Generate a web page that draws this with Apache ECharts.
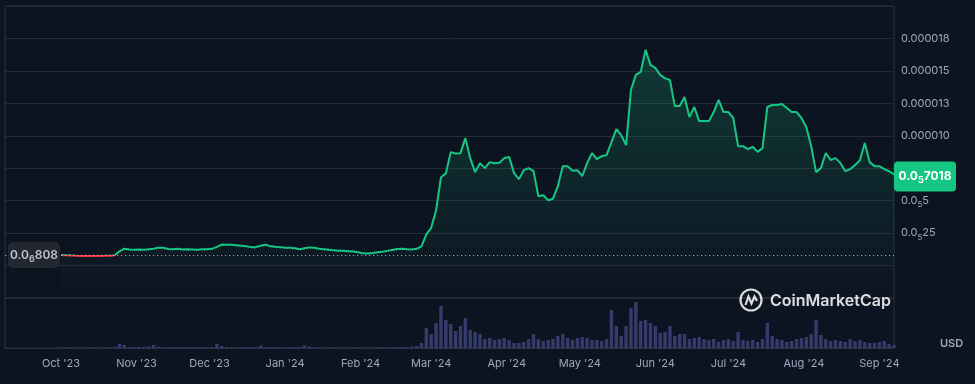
<!DOCTYPE html>
<html>
<head>
<meta charset="utf-8">
<script src="https://cdn.jsdelivr.net/npm/echarts@6/dist/echarts.min.js"></script>
<style>
html,body{margin:0;padding:0;background:#0d1421;}
#chart{width:975px;height:384px;}
</style>
</head>
<body>
<div id="chart"></div>
<script>
// ---- data (prices in units of 1e-6 USD, one sample every 2 days from 2023-10-01) ----
const startDate = [2023, 10, 1];
const stepDays = 2;
const prices = [
  0.808,0.79,0.77,0.75,0.74,0.74,0.73,0.73,0.74,0.75,
  0.76,0.79,1.10,1.30,1.23,1.21,1.23,1.21,1.25,1.29,
  1.38,1.37,1.27,1.25,1.29,1.23,1.25,1.23,1.21,1.25,
  1.25,1.29,1.44,1.62,1.60,1.61,1.56,1.52,1.48,1.42,
  1.42,1.52,1.61,1.48,1.44,1.42,1.38,1.38,1.33,1.25,
  1.33,1.40,1.37,1.29,1.25,1.21,1.17,1.15,1.14,1.11,
  1.08,1.02,0.94,0.93,0.96,1.02,1.06,1.13,1.20,1.27,
  1.29,1.25,1.23,1.29,1.48,2.41,2.91,4.26,6.81,7.10,
  8.74,8.64,8.66,9.82,8.28,7.20,7.89,7.51,7.97,7.89,
  7.92,8.28,8.36,7.12,6.66,7.35,7.51,7.28,5.34,5.42,
  5.03,5.15,6.12,7.66,7.66,7.31,7.35,6.89,7.89,8.66,
  8.20,8.43,8.51,9.51,10.52,10.05,9.28,13.53,14.69,14.92,
  16.62,15.46,15.23,14.69,14.42,14.30,12.29,12.29,12.99,11.44,
  12.22,11.13,11.13,11.13,11.83,12.76,11.83,11.83,11.37,9.20,
  9.20,8.97,9.15,8.76,9.05,12.22,12.37,12.37,12.45,12.14,
  11.83,11.83,11.37,10.68,9.20,7.20,7.51,8.67,8.13,8.28,
  7.89,7.27,7.43,7.74,8.12,9.44,7.97,7.66,7.66,7.43,
  7.27,7.018
];
const volumes = [
  0.5,0.4,0.6,0.5,0.4,0.5,0.6,0.5,0.4,0.5,0.6,
  1,4,3,1,1,1.2,1,1.5,3,1,
  0.8,0.7,0.9,0.8,0.7,0.8,0.9,0.7,0.8,0.8,
  1,4,2,1,0.8,0.7,0.9,0.8,1,0.8,
  2.5,0.8,0.7,0.9,0.8,0.7,0.8,0.9,1,2.5,
  1.5,0.6,0.5,0.6,0.5,0.6,0.5,0.6,0.5,0.6,
  0.5,0.6,0.5,0.6,0.5,0.8,0.7,0.8,0.9,1,
  1,1.5,2,5,20,14,25,42,28,24,
  17,22,30,18,16,14,9,10,8,9,
  10,8,5,5,6,9,14,9,7,8,
  9,12,14,10,8,10,11,10,8,8,
  7,9,38,22,12,22,40,46,27,28,
  25,22,15,16,22,12,14,14,9,10,
  11,9,8,9,6,8,9,7,16,8,
  7,8,6,9,25,12,9,8,6,7,
  9,10,11,14,28,13,9,7,8,7,
  6,9,7,8,6,5,5,6,7,4,3
];
const baselinePrice = 0.808;
const axisRange = ['2023-09-08', '2024-09-07'];
const monthStarts = ['2023-10-01','2023-11-01','2023-12-01','2024-01-01','2024-02-01','2024-03-01',
                     '2024-04-01','2024-05-01','2024-06-01','2024-07-01','2024-08-01','2024-09-01'];
const monthLabels = ["Oct '23","Nov '23","Dec '23","Jan '24","Feb '24","Mar '24",
                     "Apr '24","May '24","Jun '24","Jul '24","Aug '24","Sep '24"];
const priceTicks = [2.5, 5, 10, 12.5, 15, 17.5];
const priceTickLabels = ['0.0{s|5}25', '0.0{s|5}5', '0.000010', '0.000013', '0.000015', '0.000018'];

// ---- helpers ----
function parseDay(s) { const p = s.split('-').map(Number); return Date.UTC(p[0], p[1] - 1, p[2]); }
function sampleTs(k) { return Date.UTC(startDate[0], startDate[1] - 1, startDate[2] + k * stepDays); }
function subFormat(micro) {
  const val = micro * 1e-6;
  const exp = Math.floor(Math.log10(val));
  const zeros = -exp - 1;
  const mant = (val / Math.pow(10, exp)).toFixed(3).replace('.', '').replace(/0+$/, '');
  return '{a|0.0}{s|' + zeros + '}{a|' + mant + '}';
}
function roundRectPath(w, h, r) {
  return 'path://M' + r + ',0H' + (w - r) + 'A' + r + ',' + r + ' 0 0 1 ' + w + ',' + r +
    'V' + (h - r) + 'A' + r + ',' + r + ' 0 0 1 ' + (w - r) + ',' + h +
    'H' + r + 'A' + r + ',' + r + ' 0 0 1 0,' + (h - r) +
    'V' + r + 'A' + r + ',' + r + ' 0 0 1 ' + r + ',0Z';
}

const priceData = prices.map((v, k) => [sampleTs(k), v]);
const volumeData = volumes.map((v, k) => [sampleTs(k), v]);
const monthTs = monthStarts.map(parseDay);
function monthLabelFor(v) {
  const i = monthTs.findIndex(t => Math.abs(t - v) < 3600e3);
  return i >= 0 ? monthLabels[i] : '';
}
const xMin = parseDay(axisRange[0]), xMax = parseDay(axisRange[1]);
const lastPoint = priceData[priceData.length - 1];

const FONT = 'Inter, "Noto Sans", sans-serif';
const GRID_COLOR = '#232a38';
const BORDER_COLOR = '#2b3140';
const TEXT_COLOR = '#a1a7bb';

const chart = echarts.init(document.getElementById('chart'), null, { renderer: 'canvas' });
chart.setOption({
  backgroundColor: '#0d1421',
  animation: false,
  textStyle: { fontFamily: FONT },
  grid: [
    { left: 5, right: 81, top: 6, height: 292, show: true, borderColor: BORDER_COLOR, borderWidth: 1, backgroundColor: 'transparent' },
    { left: 5, right: 81, top: 298, height: 50, show: true, borderColor: BORDER_COLOR, borderWidth: 1, backgroundColor: 'transparent' }
  ],
  visualMap: {
    show: false, seriesIndex: 0, dimension: 1,
    pieces: [{ gte: -5, lt: baselinePrice, color: '#ea3943' }, { gte: baselinePrice, lte: 100, color: '#16c784' }]
  },
  xAxis: [
    { type: 'value', gridIndex: 0, min: xMin, max: xMax, scale: true,
      axisLine: { show: false }, axisTick: { show: false }, axisLabel: { show: false }, splitLine: { show: false } },
    { type: 'value', gridIndex: 1, min: xMin, max: xMax, scale: true,
      axisLine: { show: true, onZero: false, lineStyle: { color: BORDER_COLOR } },
      axisTick: { show: false }, splitLine: { show: false },
      axisLabel: {
        customValues: monthTs,
        formatter: (v) => monthLabelFor(v),
        color: TEXT_COLOR, fontSize: 11, fontFamily: FONT, margin: 10,
        showMinLabel: true, showMaxLabel: true
      } }
  ],
  yAxis: [
    { type: 'value', gridIndex: 0, position: 'right', min: -2.5, max: 20, interval: 2.5,
      axisLine: { show: false }, axisTick: { show: false },
      splitLine: { show: true, lineStyle: { color: GRID_COLOR, width: 1 } },
      axisLabel: {
        color: TEXT_COLOR, fontSize: 11, fontFamily: FONT, margin: 7, align: 'left',
        formatter: (v) => {
          const i = priceTicks.findIndex(t => Math.abs(t - v) < 1e-9);
          return i >= 0 ? priceTickLabels[i] : '';
        },
        rich: { s: { fontSize: 8, color: TEXT_COLOR, fontFamily: FONT, padding: [8, 0, 0, 0] } }
      } },
    { type: 'value', gridIndex: 1, min: 0, max: 50, show: false, splitLine: { show: false } }
  ],
  series: [
    {
      type: 'line', xAxisIndex: 0, yAxisIndex: 0, data: priceData,
      showSymbol: false, symbol: 'none', smooth: false,
      lineStyle: { width: 2 },
      areaStyle: {
        origin: 'start',
        color: new echarts.graphic.LinearGradient(0, 0, 0, 1, [
          { offset: 0, color: 'rgba(22,199,132,0.30)' },
          { offset: 1, color: 'rgba(22,199,132,0.0)' }
        ])
      },
      markLine: {
        silent: true, symbol: 'none', animation: false,
        label: { show: false },
        lineStyle: { type: [1.2, 2.8], color: 'rgba(255,255,255,0.6)', width: 1 },
        data: [{ yAxis: baselinePrice }]
      },
      markPoint: {
        silent: true, animation: false,
        data: [
          { coord: [xMin, baselinePrice], symbol: roundRectPath(52, 26, 5), symbolSize: [52, 26], symbolOffset: [29, 0],
            itemStyle: { color: '#23272f' },
            label: { show: true, position: 'inside', formatter: subFormat(baselinePrice),
              rich: { a: { fontSize: 12, fontWeight: 600, color: '#bfc3cf', fontFamily: FONT },
                      s: { fontSize: 9, fontWeight: 600, color: '#bfc3cf', fontFamily: FONT, padding: [8, 0, 0, 0] } } } },
          { coord: lastPoint, symbol: roundRectPath(62, 30, 4), symbolSize: [62, 30], symbolOffset: [31, 2],
            itemStyle: { color: '#16c784' },
            label: { show: true, position: 'inside', formatter: subFormat(lastPoint[1]),
              rich: { a: { fontSize: 12, fontWeight: 700, color: '#ffffff', fontFamily: FONT },
                      s: { fontSize: 9, fontWeight: 700, color: '#ffffff', fontFamily: FONT, padding: [8, 0, 0, 0] } } } }
        ]
      },
      z: 3
    },
    {
      type: 'bar', xAxisIndex: 1, yAxisIndex: 1, data: volumeData,
      barWidth: 3.4, itemStyle: { color: '#353b6b' }, z: 2
    }
  ],
  graphic: [
    { type: 'text', left: 940, top: 338, style: { text: 'USD', fill: TEXT_COLOR, font: '600 11px ' + FONT } },
    { type: 'circle', shape: { cx: 751, cy: 300, r: 10.5 }, style: { fill: 'none', stroke: 'rgba(255,255,255,0.85)', lineWidth: 2.2 }, z: 10 },
    { type: 'polyline', shape: { points: [[745.5, 305], [748.5, 296.5], [751.5, 303.5], [754.5, 296.5], [757, 301]] },
      style: { fill: 'none', stroke: 'rgba(255,255,255,0.85)', lineWidth: 2.2 }, z: 10 },
    { type: 'text', x: 770, y: 301, style: { text: 'CoinMarketCap', fill: 'rgba(255,255,255,0.85)', font: '600 16px ' + FONT, verticalAlign: 'middle' }, z: 10 }
  ]
});
</script>
</body>
</html>
